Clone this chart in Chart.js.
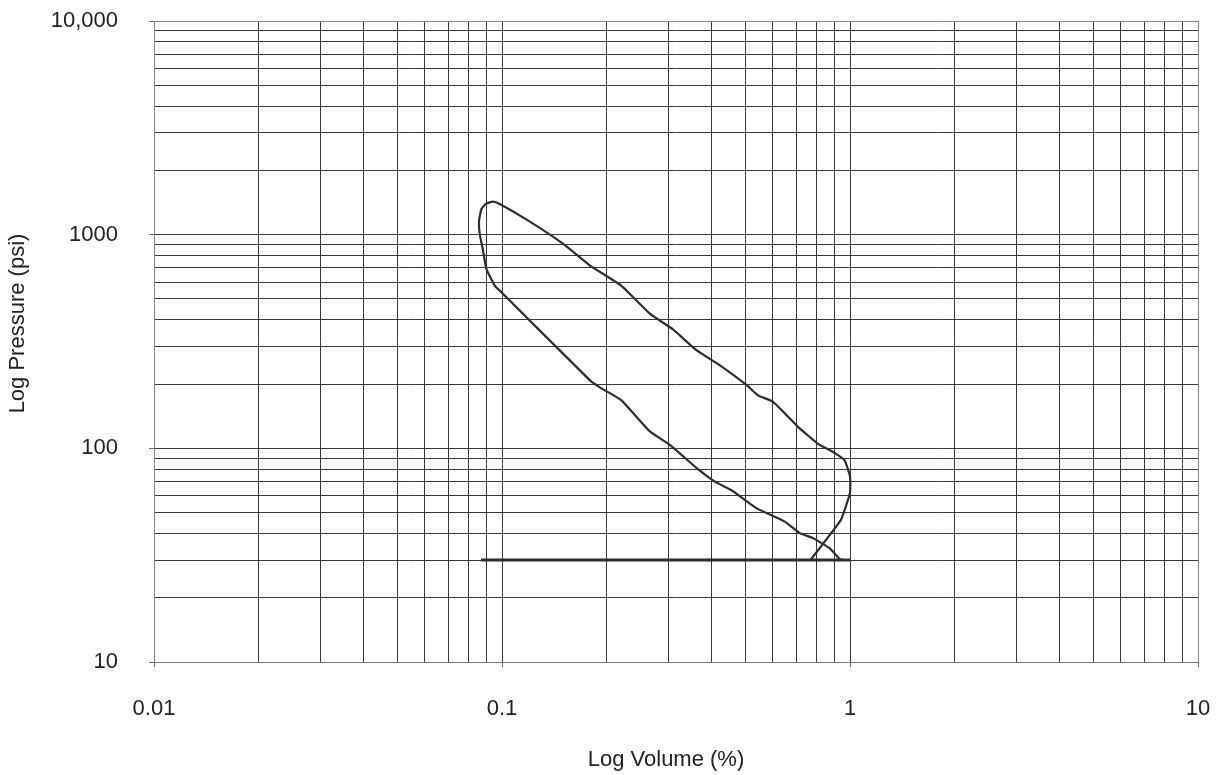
<!DOCTYPE html>
<html lang="en">
<head>
    <meta charset="UTF-8">
    <title>Log Pressure vs Log Volume</title>
    <script src="https://cdn.jsdelivr.net/npm/chart.js"></script>
    <style>
        html, body {
            margin: 0;
            padding: 0;
            background: #ffffff;
        }
        .chart-box {
            width: 1220px;
            height: 775px;
            position: relative;
        }
    </style>
</head>
<body>
<div class="chart-box">
    <canvas id="pvChart"></canvas>
</div>

<script>
    // Loop traced around the cycle (volume %, pressure psi)
    const loopVolume = [
        0.77, 0.94, 0.971, 1.0, 1.0, 0.964, 0.904, 0.809, 0.766, 0.709,
        0.601, 0.544, 0.504, 0.422, 0.362, 0.310, 0.266, 0.220, 0.179, 0.150,
        0.119, 0.0985, 0.0942, 0.090, 0.0873, 0.0859, 0.0863, 0.0882, 0.0902, 0.0953,
        0.0996, 0.179, 0.191, 0.220, 0.266, 0.303, 0.362, 0.408, 0.461, 0.538,
        0.649, 0.717, 0.783, 0.875, 0.934, 0.95
    ];
    const loopPressure = [
        30, 46, 53, 62, 74, 88, 95, 105, 113, 126,
        165, 177, 198, 245, 288, 360, 427, 578, 717, 906,
        1164, 1393, 1429, 1397, 1319, 1164, 1009, 843, 692, 578,
        538, 208, 193, 168, 120, 104, 81, 70, 63, 52.5,
        45.4, 40.1, 38, 34, 30.3, 30
    ];

    // Base line at 30 psi
    const baseVolume = [0.087, 1.0];
    const basePressure = [30, 30];

    // Axis ranges and labelled decades
    const xMajorTicks = [0.01, 0.1, 1, 10];
    const xMajorLabels = ["0.01", "0.1", "1", "10"];
    const yMajorTicks = [10, 100, 1000, 10000];
    const yMajorLabels = ["10", "100", "1000", "10,000"];

    const FONT = "'Liberation Sans', Arial, sans-serif";

    // every 1..9 x 10^k between the first and last decade
    function logTicks(decades) {
        const out = [];
        for (let i = 0; i < decades.length - 1; i++) {
            for (let m = 1; m <= 9; m++) out.push(+(decades[i] * m).toPrecision(6));
        }
        out.push(decades[decades.length - 1]);
        return out;
    }

    function isMajor(list, v) {
        return list.some(d => Math.abs(d - v) / d < 1e-6);
    }

    function toPoints(xs, ys) {
        return xs.map((x, i) => ({ x, y: ys[i] }));
    }

    // axis titles sit a little off-centre, so draw them by hand
    const axisTitles = {
        id: "axisTitles",
        afterDraw(chart) {
            const { ctx, chartArea } = chart;
            ctx.save();
            ctx.fillStyle = "#222";
            ctx.font = "22px " + FONT;
            ctx.textAlign = "center";
            ctx.textBaseline = "middle";
            ctx.fillText("Log Volume (%)", (chartArea.left + chartArea.right) / 2 - 10, chartArea.bottom + 98);
            ctx.translate(18, (chartArea.top + chartArea.bottom) / 2 - 18);
            ctx.rotate(-Math.PI / 2);
            ctx.fillText("Log Pressure (psi)", 0, 0);
            ctx.restore();
        }
    };

    function gridColor(majors) {
        return c => {
            const v = c.tick ? c.tick.value : null;
            return v === majors[majors.length - 1] ? "#8c8484" : "#3a3a3a";
        };
    }

    function tickColor(majors) {
        return c => (c.tick && isMajor(majors, c.tick.value)) ? "#666" : "rgba(0,0,0,0)";
    }

    new Chart(document.getElementById("pvChart"), {
        type: "scatter",
        data: {
            datasets: [
                {
                    data: toPoints(loopVolume, loopPressure),
                    showLine: true,
                    borderColor: "#2e2e2e",
                    borderWidth: 2.2,
                    pointRadius: 0,
                    tension: 0.15,
                    fill: false
                },
                {
                    data: toPoints(baseVolume, basePressure),
                    showLine: true,
                    borderColor: "#2e2e2e",
                    borderWidth: 3,
                    pointRadius: 0,
                    fill: false
                }
            ]
        },
        options: {
            responsive: true,
            maintainAspectRatio: false,
            animation: false,
            layout: { padding: { top: 21, right: 22, left: 0, bottom: 0 } },
            plugins: {
                legend: { display: false },
                tooltip: { enabled: false }
            },
            scales: {
                x: {
                    type: "logarithmic",
                    min: xMajorTicks[0],
                    max: xMajorTicks[xMajorTicks.length - 1],
                    afterBuildTicks: s => { s.ticks = logTicks(xMajorTicks).map(v => ({ value: v })); },
                    afterFit: s => {
                        s.height = 113;
                        s.paddingLeft = 0;
                        s.paddingRight = 0;
                    },
                    border: { color: "#777", width: 1 },
                    grid: {
                        color: gridColor(xMajorTicks),
                        lineWidth: 1,
                        tickLength: 5,
                        tickColor: tickColor(xMajorTicks)
                    },
                    ticks: {
                        autoSkip: false,
                        maxRotation: 0,
                        padding: 29,
                        color: "#222",
                        font: { family: FONT, size: 22 },
                        callback: v => {
                            const i = xMajorTicks.findIndex(d => Math.abs(d - v) / d < 1e-6);
                            return i >= 0 ? xMajorLabels[i] : "";
                        }
                    }
                },
                y: {
                    type: "logarithmic",
                    min: yMajorTicks[0],
                    max: yMajorTicks[yMajorTicks.length - 1],
                    afterBuildTicks: s => { s.ticks = logTicks(yMajorTicks).map(v => ({ value: v })); },
                    afterFit: s => {
                        s.width = 154;
                        s.paddingTop = 0;
                        s.paddingBottom = 0;
                    },
                    border: { color: "#888", width: 1 },
                    grid: {
                        color: gridColor(yMajorTicks),
                        lineWidth: 1,
                        tickLength: 5,
                        tickColor: tickColor(yMajorTicks)
                    },
                    ticks: {
                        autoSkip: false,
                        padding: 31,
                        color: "#222",
                        font: { family: FONT, size: 22 },
                        callback: v => {
                            const i = yMajorTicks.findIndex(d => Math.abs(d - v) / d < 1e-6);
                            return i >= 0 ? yMajorLabels[i] : "";
                        }
                    }
                }
            }
        },
        plugins: [axisTitles]
    });
</script>
</body>
</html>
